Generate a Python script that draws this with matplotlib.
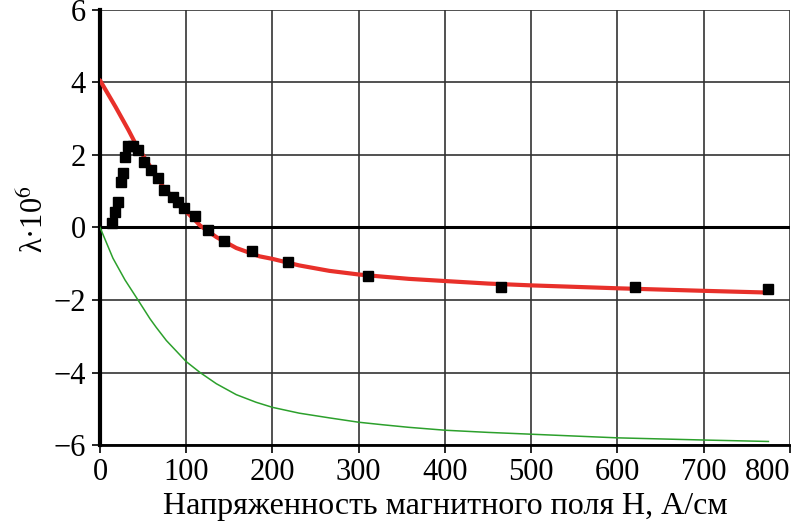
import numpy as np
from matplotlib import pyplot as plt

plt.rcParams['font.family'] = ['Liberation Serif', 'DejaVu Serif']
plt.rcParams['mathtext.fontset'] = 'stix'

# measured points (black squares)
h_meas = [13.5, 17.4, 20.5, 24.3, 26.3, 28.9, 32.1, 37.8, 43.6, 50.6, 59.0, 66.8,
          74.4, 84.1, 90.6, 97.6, 110.0, 124.7, 143.9, 176.0, 218.0, 310.5, 465.0,
          620.0, 774.6]
lam_meas = [0.13, 0.43, 0.70, 1.25, 1.49, 1.94, 2.24, 2.24, 2.13, 1.80, 1.58, 1.35,
            1.04, 0.84, 0.70, 0.52, 0.31, -0.08, -0.37, -0.66, -0.96, -1.34, -1.64,
            -1.64, -1.71]

# red curve
h_red = [0, 18, 33, 40, 50, 72, 90, 110, 116, 135, 158, 185, 200, 231, 266, 300,
         328, 358, 400, 450, 500, 600, 700, 778]
lam_red = [4.05, 3.32, 2.68, 2.36, 1.98, 1.16, 0.66, 0.20, 0.05, -0.27, -0.57, -0.80,
           -0.87, -1.05, -1.20, -1.30, -1.36, -1.42, -1.48, -1.55, -1.60, -1.68,
           -1.75, -1.80]

# green curve
h_green = [0, 15, 29, 44, 58, 65, 77, 100, 116, 135, 158, 181, 200, 231, 266, 300,
           328, 358, 400, 450, 500, 600, 700, 775]
lam_green = [0, -0.85, -1.45, -2.00, -2.52, -2.75, -3.12, -3.70, -4.00, -4.31, -4.61,
             -4.82, -4.96, -5.12, -5.25, -5.37, -5.44, -5.51, -5.59, -5.65, -5.70,
             -5.80, -5.86, -5.90]

xticks = [0, 100, 200, 300, 400, 500, 600, 700, 800]
yticks = [-6, -4, -2, 0, 2, 4, 6]


fig = plt.figure(figsize=(7.91, 5.28), dpi=100)
ax = fig.add_axes([0.1264, 0.157, 0.8723, 0.825])

ax.plot(h_green, lam_green, color='#2ca02c', lw=1.1, zorder=3,
        solid_joinstyle='round')
ax.plot(h_red, lam_red, color='#e8302a', lw=3.0, zorder=4,
        solid_capstyle='round', solid_joinstyle='round')
ax.plot(h_meas, lam_meas, ls='none', marker='s', ms=7, color='black', zorder=5)

ax.axhline(0, color='black', lw=2.2, zorder=2)

ax.set_xlim(0, 800)
ax.set_ylim(-6, 6)
ax.set_xticks(xticks)
ax.set_yticks(yticks)
ax.set_yticklabels(['\u2212%d' % -v if v < 0 else str(v) for v in yticks])
ax.grid(True, color='#333333', lw=1.2)
ax.set_axisbelow(True)

for s in ['top', 'right']:
    ax.spines[s].set_visible(False)
ax.spines['left'].set_linewidth(3)
ax.spines['bottom'].set_linewidth(2)

ax.tick_params(axis='both', labelsize=22, length=6, width=1.2, direction='out')
ax.tick_params(axis='y', pad=4)
ax.tick_params(axis='x', pad=3)
ax.get_xticklabels()[-1].set_horizontalalignment('right')

ax.set_xlabel('Напряженность магнитного поля H, А/см', fontsize=23, labelpad=4)
ax.set_ylabel('λ·10$^{6}$', fontsize=22)
ax.yaxis.set_label_coords(-0.072, 0.52)

fig.savefig('out.png', dpi=100)
